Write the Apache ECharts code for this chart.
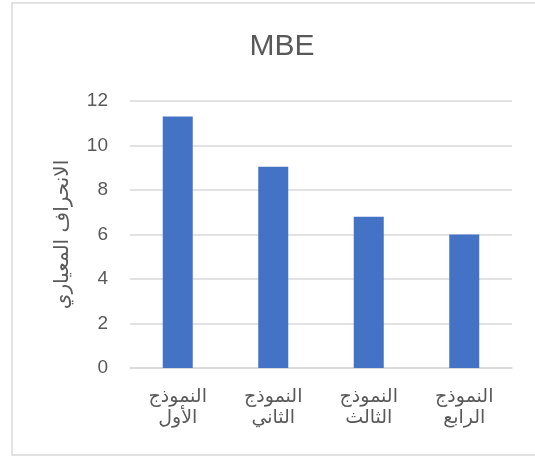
<!DOCTYPE html>
<html>
<head>
<meta charset="utf-8">
<script src="https://cdn.jsdelivr.net/npm/echarts@6/dist/echarts.min.js"></script>
<style>
	html, body { margin: 0; padding: 0; background: #fff; }
	#chart { width: 535px; height: 458px; }
</style>
</head>
<body>
<div id="chart"></div>
<script>
	var categories = ['النموذج\nالأول', 'النموذج\nالثاني', 'النموذج\nالثالث', 'النموذج\nالرابع'];
	var values = [11.3, 9.05, 6.8, 6.0];
	var yTicks = [0, 12, 2]; // min, max, step

	var myChart = echarts.init(document.getElementById('chart'));
	var option = {
		backgroundColor: '#fff',
		animation: false,
		graphic: [{
			type: 'rect',
			shape: { x: 12, y: 3, width: 540, height: 452 },
			style: { fill: 'none', stroke: '#d9d9d9', lineWidth: 1.5 },
			silent: true
		}],
		title: {
			text: 'MBE',
			left: 277,
			top: 27,
			textAlign: 'center',
			textStyle: {
				fontFamily: 'Liberation Sans, Arial, sans-serif',
				fontSize: 30,
				fontWeight: 'normal',
				color: '#595959'
			}
		},
		grid: {
			left: 130,
			right: 23,
			top: 101,
			bottom: 90
		},
		xAxis: {
			type: 'category',
			data: categories,
			axisTick: { show: false },
			axisLine: { lineStyle: { color: '#d9d9d9', width: 1.5 } },
			axisLabel: {
				interval: 0,
				margin: 19,
				color: '#595959',
				fontSize: 19,
				lineHeight: 21,
				fontFamily: 'DejaVu Sans, sans-serif'
			}
		},
		yAxis: {
			type: 'value',
			min: yTicks[0],
			max: yTicks[1],
			interval: yTicks[2],
			name: 'الانحراف المعياري',
			nameLocation: 'middle',
			nameGap: 57,
			nameTextStyle: {
				color: '#595959',
				fontSize: 20,
				fontFamily: 'DejaVu Sans, sans-serif'
			},
			axisLine: { show: false },
			axisTick: { show: false },
			axisLabel: {
				margin: 22,
				color: '#595959',
				fontSize: 19,
				fontFamily: 'Liberation Sans, Arial, sans-serif'
			},
			splitLine: { lineStyle: { color: '#d9d9d9', width: 1.5 } }
		},
		series: [{
			type: 'bar',
			data: values,
			barWidth: 30,
			itemStyle: { color: '#4472c4' }
		}]
	};
	myChart.setOption(option);
</script>
</body>
</html>
